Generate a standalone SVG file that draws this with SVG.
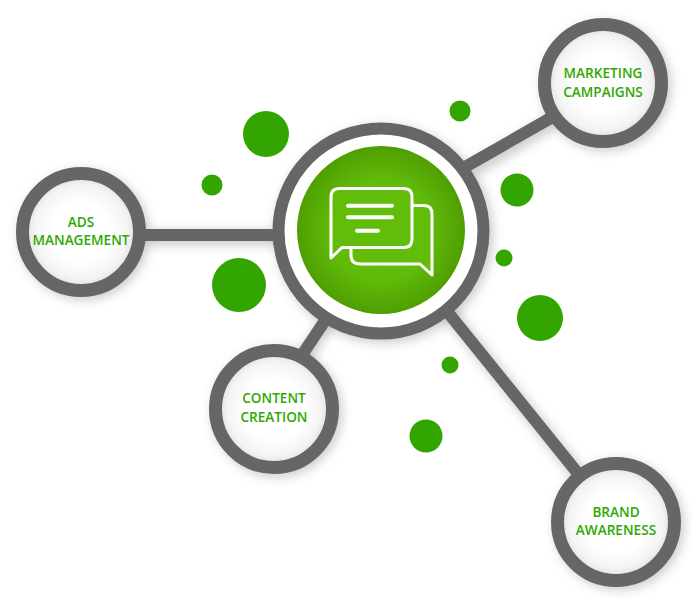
<svg xmlns="http://www.w3.org/2000/svg" width="693" height="600" viewBox="0 0 693 600">
<defs>
<filter id="sh" x="-40%" y="-40%" width="180%" height="180%"><feGaussianBlur stdDeviation="6"/></filter>
<radialGradient id="fill"><stop offset="0.5" stop-color="#ffffff"/><stop offset="0.8" stop-color="#f4f4f4"/><stop offset="1" stop-color="#d8d8d8"/></radialGradient>
<radialGradient id="core"><stop offset="0" stop-color="#68c40b"/><stop offset="0.6" stop-color="#60bb09"/><stop offset="1" stop-color="#4f9e02"/></radialGradient>
</defs>
<style>
.lnk{stroke:#666;stroke-width:12;fill:none}
.sh{fill:none;stroke:#000;stroke-opacity:.24;stroke-width:12;filter:url(#sh)}
.ring{fill:url(#fill);stroke:#666;stroke-width:13}
.dot{fill:#32a500}
.ic{fill:#62bd0a;stroke:#fff;stroke-width:3;stroke-linejoin:round;stroke-linecap:round}
text{font-family:"Open Sans","Liberation Sans",sans-serif;font-weight:600;font-size:13.6px;fill:#2fa800;text-anchor:middle}
</style>
<g id="shadows">
<path class="sh" d="M146 238H280M472 170L554 121M328 322L302 360M450 314L580 476"/>
<circle class="sh" cx="384" cy="234" r="102"/>
<circle class="sh" cx="84" cy="235" r="58"/>
<circle class="sh" cx="606" cy="86" r="58"/>
<circle class="sh" cx="277" cy="412" r="58"/>
<circle class="sh" cx="619" cy="525" r="58"/>
</g>
<g id="connectors">
<path class="lnk" d="M140 235H285"/>
<path class="lnk" d="M465 167L556 115"/>
<path class="lnk" d="M328 316L300 358"/>
<path class="lnk" d="M446 310L580 476"/>
</g>
<g id="dots">
<circle class="dot" cx="266" cy="134" r="23"/>
<circle class="dot" cx="212" cy="185" r="10.500"/>
<circle class="dot" cx="239" cy="285" r="27"/>
<circle class="dot" cx="460" cy="111" r="10.500"/>
<circle class="dot" cx="517" cy="190" r="16.500"/>
<circle class="dot" cx="504" cy="258" r="8.500"/>
<circle class="dot" cx="540" cy="318" r="23"/>
<circle class="dot" cx="450" cy="365" r="8.500"/>
<circle class="dot" cx="426" cy="436" r="16.500"/>
</g>
<g id="hub">
<circle cx="381" cy="231" r="102.500" fill="#fff" stroke="#666" stroke-width="12"/>
<circle cx="381" cy="230" r="84" fill="url(#core)"/>
<path class="ic" d="M405 205.500H424Q432 205.500 432 214V275L420 264H360Q351 264 351 255V240H405Z"/>
<path class="ic" d="M339 188.500H404Q412 188.500 412 197V239Q412 247.500 404 247.500H342L331 258V197Q331 188.500 339 188.500Z"/>
<path d="M348 205.700H392M348 217.300H392M357 230.700H378" fill="none" stroke="#fff" stroke-width="4" stroke-linecap="round"/>
</g>
<g id="ads"><circle class="ring" cx="81" cy="232" r="58.500"/><text x="81" y="227">ADS</text><text x="81" y="245">MANAGEMENT</text></g>
<g id="marketing"><circle class="ring" cx="603" cy="83" r="58.500"/><text x="603" y="78">MARKETING</text><text x="603" y="97">CAMPAIGNS</text></g>
<g id="content"><circle class="ring" cx="274" cy="409" r="58.500"/><text x="274" y="403">CONTENT</text><text x="274" y="422">CREATION</text></g>
<g id="brand"><circle class="ring" cx="616" cy="522" r="58.500"/><text x="616" y="517">BRAND</text><text x="616" y="535">AWARENESS</text></g>
</svg>
